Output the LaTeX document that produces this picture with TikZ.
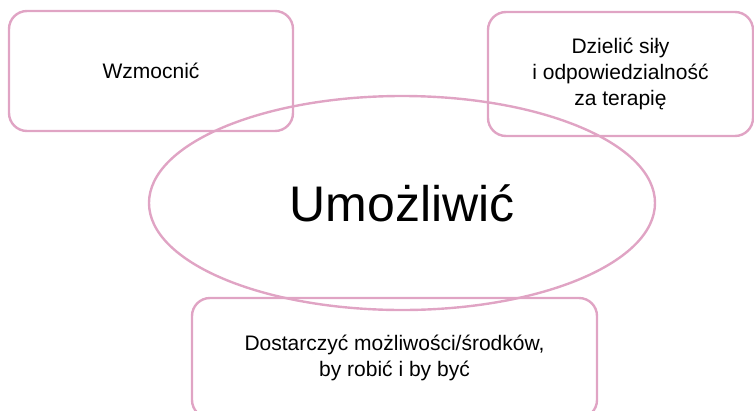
\documentclass[tikz,border=0pt]{standalone}
\usepackage{fontspec}
\setmainfont{Liberation Sans}
\usetikzlibrary{shapes.geometric}
\definecolor{rosepink}{RGB}{224,164,196}
\tikzstyle{goal-box}=[draw=rosepink,line width=2.4pt,rounded corners=18pt,align=center,font=\fontsize{21}{26}\selectfont]
\tikzstyle{core-ellipse}=[draw=rosepink,line width=2.4pt,ellipse,font=\fontsize{50}{60}\selectfont]

\begin{document}
\begin{tikzpicture}[x=1pt,y=-1pt]
	\clip (0,0) rectangle (754,410);
	\begin{scope}
	\node (strengthen)[goal-box,minimum width=284pt,minimum height=120pt] at (151,71) {Wzmocnić};
	\node (share)[goal-box,minimum width=265pt,minimum height=124pt] at (620.5,74) {Dzielić siły\\i odpowiedzialność\\za terapię};
	\node (provide)[goal-box,minimum width=405pt,minimum height=120pt] at (394.5,358) {Dostarczyć możliwości/środków,\\by robić i by być};
	\node (enable)[core-ellipse,minimum width=506pt,minimum height=214pt] at (402,203) {Umożliwić};
	\end{scope}
\end{tikzpicture}
\end{document}
